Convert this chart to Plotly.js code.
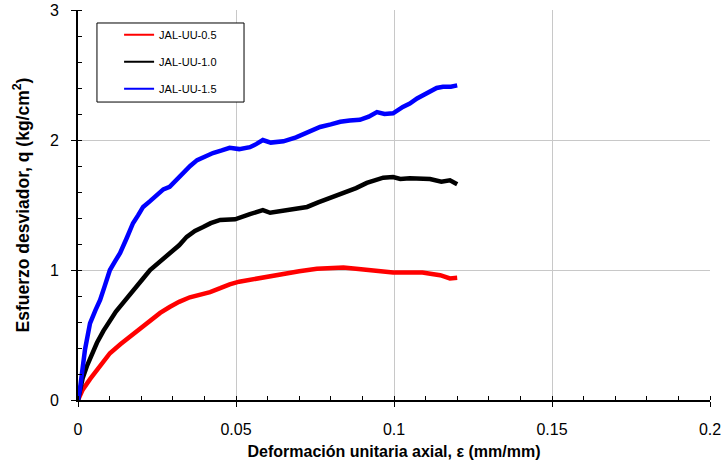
<!DOCTYPE html>
<html>
<head>
<meta charset="utf-8">
<script src="https://cdn.plot.ly/plotly-3.0.1.min.js"></script>
<style>html,body{margin:0;padding:0;background:#fff;}#chart{width:724px;height:462px;}</style>
</head>
<body>
<div id="chart"></div>
<script>
// Series names
const seriesNames = ["JAL-UU-0.5", "JAL-UU-1.0", "JAL-UU-1.5"];
const seriesColors = ["#ff0000", "#000000", "#0000ff"];

// JAL-UU-0.5
const strainA = [0, 0.0015, 0.0038, 0.0070, 0.0101, 0.0135, 0.0165, 0.0200, 0.0228, 0.0260, 0.0290, 0.0320, 0.0354, 0.0385, 0.0418, 0.0450, 0.0480, 0.0510, 0.0544, 0.0575, 0.0608, 0.0650, 0.0700, 0.0756, 0.0800, 0.0840, 0.0880, 0.0914, 0.0960, 0.0997, 0.1040, 0.1090, 0.1120, 0.1146, 0.1177, 0.1200];
const stressA = [0, 0.08, 0.16, 0.26, 0.36, 0.43, 0.49, 0.56, 0.615, 0.67, 0.715, 0.755, 0.79, 0.81, 0.83, 0.86, 0.89, 0.91, 0.925, 0.94, 0.955, 0.975, 0.99, 1.01, 1.015, 1.02, 1.01, 1.0, 0.99, 0.98, 0.98, 0.98, 0.97, 0.96, 0.935, 0.94];

// JAL-UU-1.0
const strainB = [0, 0.0006, 0.0015, 0.0028, 0.0045, 0.0060, 0.0080, 0.0101, 0.0120, 0.0142, 0.0165, 0.0187, 0.0208, 0.0228, 0.0260, 0.0290, 0.0320, 0.0344, 0.0370, 0.0396, 0.0420, 0.0450, 0.0497, 0.0544, 0.0585, 0.0608, 0.0640, 0.0670, 0.0700, 0.0725, 0.0760, 0.0788, 0.0820, 0.0850, 0.0880, 0.0914, 0.0940, 0.0966, 0.0997, 0.1020, 0.1050, 0.1080, 0.1114, 0.1150, 0.1177, 0.1200];
const stressB = [0, 0.08, 0.17, 0.26, 0.36, 0.44, 0.53, 0.615, 0.68, 0.745, 0.81, 0.87, 0.94, 1.0, 1.07, 1.13, 1.19, 1.255, 1.30, 1.33, 1.36, 1.385, 1.39, 1.43, 1.46, 1.44, 1.45, 1.46, 1.47, 1.485, 1.52, 1.545, 1.57, 1.60, 1.63, 1.67, 1.69, 1.71, 1.715, 1.70, 1.705, 1.70, 1.70, 1.68, 1.69, 1.66];

// JAL-UU-1.5
const strainC = [0, 0.0006, 0.0022, 0.0038, 0.0055, 0.0070, 0.0085, 0.0101, 0.0118, 0.0133, 0.0155, 0.0174, 0.0190, 0.0206, 0.0228, 0.0250, 0.0270, 0.0290, 0.0310, 0.0332, 0.0355, 0.0377, 0.0400, 0.0427, 0.0455, 0.0480, 0.0510, 0.0544, 0.0565, 0.0585, 0.0610, 0.0650, 0.0690, 0.0725, 0.0766, 0.0800, 0.0830, 0.0860, 0.0892, 0.0920, 0.0946, 0.0970, 0.0997, 0.1028, 0.1050, 0.1073, 0.1095, 0.1114, 0.1135, 0.1155, 0.1180, 0.1200];
const stressC = [0, 0.08, 0.385, 0.59, 0.69, 0.77, 0.88, 1.0, 1.07, 1.13, 1.25, 1.36, 1.42, 1.485, 1.53, 1.575, 1.62, 1.64, 1.69, 1.745, 1.80, 1.845, 1.87, 1.90, 1.92, 1.94, 1.93, 1.945, 1.97, 2.0, 1.98, 1.99, 2.02, 2.055, 2.10, 2.12, 2.14, 2.15, 2.155, 2.18, 2.215, 2.20, 2.205, 2.255, 2.28, 2.32, 2.35, 2.38, 2.40, 2.41, 2.41, 2.42];

// Axis ticks
const xTicks = [0, 0.05, 0.1, 0.15, 0.2];
const xTickLabels = ["0", "0.05", "0.1", "0.15", "0.2"];
const yTicks = [0, 1, 2, 3];
const yTickLabels = ["0", "1", "2", "3"];

const xs = [strainA, strainB, strainC];
const ys = [stressA, stressB, stressC];

const traces = xs.map((x, i) => ({
  x: x, y: ys[i], type: 'scatter', mode: 'lines',
  name: seriesNames[i], legendgroup: 'g' + i,
  line: {color: seriesColors[i], width: 4.5}
}));

const font = {family: '"Liberation Sans", Arial, sans-serif', color: '#000'};
const fnt = s => Object.assign({size: s}, font);

const layout = {
  width: 724, height: 462,
  margin: {l: 78, r: 14, t: 10, b: 62},
  paper_bgcolor: '#fff', plot_bgcolor: '#fff',
  font: fnt(16),
  showlegend: true,
  legend: {
    x: 0.065, y: 0.974, xanchor: 'left', yanchor: 'top',
    borderwidth: 0, bgcolor: 'rgba(0,0,0,0)',
    font: fnt(11),
    tracegroupgap: 8
  },
  shapes: [{
    type: 'rect', xref: 'paper', yref: 'paper', layer: 'above',
    x0: 0.030, x1: 0.2627, y0: 0.764, y1: 0.9667,
    line: {color: '#000', width: 1}, fillcolor: '#fff'
  }],
  xaxis: {
    range: [0, 0.2], tickvals: xTicks, ticktext: xTickLabels,
    showgrid: true, gridcolor: '#c8c8c8', gridwidth: 1,
    zeroline: false, showline: true, linecolor: '#000', linewidth: 2,
    ticks: 'outside', ticklen: 5, tickcolor: '#000', tickwidth: 1,
    ticklabelstandoff: 9,
    minor: {dtick: 0.01, ticks: 'inside', ticklen: 4, tickcolor: '#000', showgrid: false},
    tickfont: fnt(16),
    title: {text: '<b>Deformación unitaria axial, ε (mm/mm)</b>', font: fnt(16), standoff: 9}
  },
  yaxis: {
    range: [0, 3], tickvals: yTicks, ticktext: yTickLabels,
    showgrid: true, gridcolor: '#c8c8c8', gridwidth: 1,
    zeroline: false, showline: true, linecolor: '#000', linewidth: 2,
    ticks: 'outside', ticklen: 5, tickcolor: '#000', tickwidth: 1,
    ticklabelstandoff: 9,
    minor: {dtick: 0.2, ticks: 'inside', ticklen: 4, tickcolor: '#000', showgrid: false},
    tickfont: fnt(16),
    title: {text: '<b>Esfuerzo desviador, q (kg/cm<sup>2</sup>)</b>', font: fnt(17.5), standoff: 16}
  }
};

Plotly.newPlot('chart', traces, layout, {displayModeBar: false, staticPlot: true}).then(gd => {
  gd.querySelectorAll('.legend .legendlines path').forEach(p => { p.style.strokeWidth = '2px'; });
});
</script>
</body>
</html>
